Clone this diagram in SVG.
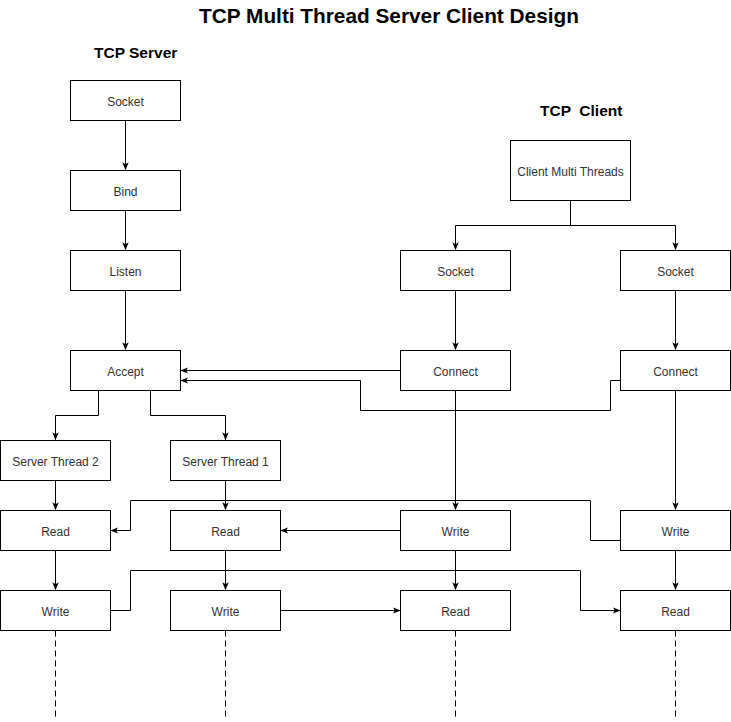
<svg xmlns="http://www.w3.org/2000/svg" width="731" height="722" viewBox="0 0 731 722">
<defs>
<marker id="arr" viewBox="0 0 10 10" refX="9" refY="5" markerWidth="8" markerHeight="8" markerUnits="userSpaceOnUse" orient="auto">
<path d="M0,1 L10,5 L0,9 L2.5,5 Z" fill="#000"/>
</marker>
</defs>
<style>
.box{fill:#fff;stroke:#000;stroke-width:1}
.lbl{font-family:"Liberation Sans",Arial,sans-serif;font-size:12px;fill:#333;text-anchor:middle;dominant-baseline:central}
.ttl{font-family:"Liberation Sans",Arial,sans-serif;font-weight:bold;fill:#000}
.ln{fill:none;stroke:#000;stroke-width:1}
.ar{marker-end:url(#arr)}
.dash{fill:none;stroke:#000;stroke-width:1;stroke-dasharray:6 4}
</style>
<rect width="731" height="722" fill="#fff"/>
<text class="ttl" x="389" y="23" font-size="20.8" text-anchor="middle">TCP Multi Thread Server Client Design</text>
<text class="ttl" x="94" y="58" font-size="15.5">TCP Server</text>
<text class="ttl" x="540" y="116" font-size="15.5" xml:space="preserve">TCP  Client</text>

<g id="connectors">
<path class="ln ar" d="M125.5,120.5 V169.5"/>
<path class="ln ar" d="M125.5,210.5 V249.5"/>
<path class="ln ar" d="M125.5,290.5 V349.5"/>
<path class="ln ar" d="M98.5,390.5 V415.5 H55.5 V439.5"/>
<path class="ln ar" d="M150.5,390.5 V415.5 H225.5 V439.5"/>
<path class="ln ar" d="M570.5,200.5 V225.5 H455.5 V249.5"/>
<path class="ln ar" d="M570.5,200.5 V225.5 H675.5 V249.5"/>
<path class="ln ar" d="M455.5,290.5 V349.5"/>
<path class="ln ar" d="M675.5,290.5 V349.5"/>
<path class="ln ar" d="M400.5,370.5 H181"/>
<path class="ln ar" d="M620.5,380.5 H610.5 V410.5 H360.5 V380.5 H181"/>
<path class="ln ar" d="M455.5,390.5 V509.5"/>
<path class="ln ar" d="M675.5,390.5 V509.5"/>
<path class="ln ar" d="M55.5,480.5 V509.5"/>
<path class="ln ar" d="M225.5,480.5 V509.5"/>
<path class="ln ar" d="M400.5,530.5 H281"/>
<path class="ln ar" d="M620.5,540.5 H590.5 V500.5 H130.5 V530.5 H111"/>
<path class="ln ar" d="M55.5,550.5 V589.5"/>
<path class="ln ar" d="M225.5,550.5 V589.5"/>
<path class="ln ar" d="M455.5,550.5 V589.5"/>
<path class="ln ar" d="M675.5,550.5 V589.5"/>
<path class="ln ar" d="M110.5,610.5 H130.5 V570.5 H580.5 V610.5 H620"/>
<path class="ln ar" d="M280.5,610.5 H400"/>
<path class="dash" d="M55.5,630.5 V720"/>
<path class="dash" d="M225.5,630.5 V720"/>
<path class="dash" d="M455.5,630.5 V720"/>
<path class="dash" d="M675.5,630.5 V720"/>
</g>

<g id="server-socket"><rect class="box" x="70.5" y="80.5" width="110" height="40"/><text class="lbl" x="125.5" y="101.5">Socket</text></g>
<g id="bind"><rect class="box" x="70.5" y="170.5" width="110" height="40"/><text class="lbl" x="125.5" y="191.5">Bind</text></g>
<g id="listen"><rect class="box" x="70.5" y="250.5" width="110" height="40"/><text class="lbl" x="125.5" y="271.5">Listen</text></g>
<g id="accept"><rect class="box" x="70.5" y="350.5" width="110" height="40"/><text class="lbl" x="125.5" y="371.5">Accept</text></g>
<g id="server-thread-2"><rect class="box" x="0.5" y="440.5" width="110" height="40"/><text class="lbl" x="55.5" y="461.5">Server Thread 2</text></g>
<g id="server-thread-1"><rect class="box" x="170.5" y="440.5" width="110" height="40"/><text class="lbl" x="225.5" y="461.5">Server Thread 1</text></g>
<g id="st2-read"><rect class="box" x="0.5" y="510.5" width="110" height="40"/><text class="lbl" x="55.5" y="531.5">Read</text></g>
<g id="st1-read"><rect class="box" x="170.5" y="510.5" width="110" height="40"/><text class="lbl" x="225.5" y="531.5">Read</text></g>
<g id="st2-write"><rect class="box" x="0.5" y="590.5" width="110" height="40"/><text class="lbl" x="55.5" y="611.5">Write</text></g>
<g id="st1-write"><rect class="box" x="170.5" y="590.5" width="110" height="40"/><text class="lbl" x="225.5" y="611.5">Write</text></g>
<g id="client-multi-threads"><rect class="box" x="510.5" y="140.5" width="120" height="60"/><text class="lbl" x="570.5" y="171.5">Client Multi Threads</text></g>
<g id="client1-socket"><rect class="box" x="400.5" y="250.5" width="110" height="40"/><text class="lbl" x="455.5" y="271.5">Socket</text></g>
<g id="client2-socket"><rect class="box" x="620.5" y="250.5" width="110" height="40"/><text class="lbl" x="675.5" y="271.5">Socket</text></g>
<g id="client1-connect"><rect class="box" x="400.5" y="350.5" width="110" height="40"/><text class="lbl" x="455.5" y="371.5">Connect</text></g>
<g id="client2-connect"><rect class="box" x="620.5" y="350.5" width="110" height="40"/><text class="lbl" x="675.5" y="371.5">Connect</text></g>
<g id="client1-write"><rect class="box" x="400.5" y="510.5" width="110" height="40"/><text class="lbl" x="455.5" y="531.5">Write</text></g>
<g id="client2-write"><rect class="box" x="620.5" y="510.5" width="110" height="40"/><text class="lbl" x="675.5" y="531.5">Write</text></g>
<g id="client1-read"><rect class="box" x="400.5" y="590.5" width="110" height="40"/><text class="lbl" x="455.5" y="611.5">Read</text></g>
<g id="client2-read"><rect class="box" x="620.5" y="590.5" width="110" height="40"/><text class="lbl" x="675.5" y="611.5">Read</text></g>
</svg>
